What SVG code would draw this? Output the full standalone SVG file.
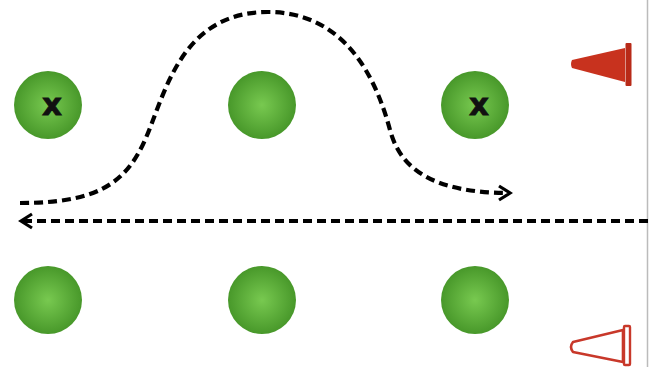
<svg xmlns="http://www.w3.org/2000/svg" width="650" height="367" viewBox="0 0 650 367">
<defs>
<radialGradient id="g" cx="50%" cy="50%" r="50%">
<stop offset="0" stop-color="#78c950"/>
<stop offset="1" stop-color="#48982a"/>
</radialGradient>
<marker id="ah" viewBox="0 0 16 18" refX="13" refY="9" markerWidth="16" markerHeight="18" markerUnits="userSpaceOnUse" orient="auto-start-reverse">
<path d="M2,2 L13,9 L2,16" fill="none" stroke="#000" stroke-width="3.2" stroke-linejoin="miter"/>
</marker>
<style>
.ball{fill:url(#g)}
.mark{font-family:"DejaVu Sans",sans-serif;font-weight:bold;font-size:31px;fill:#111;stroke:#111;stroke-width:0.8;text-anchor:middle}
.dash{fill:none;stroke:#000;stroke-width:4.2;stroke-dasharray:9 5}
</style>
</defs>
<rect width="650" height="367" fill="#fff"/>
<line x1="647.5" y1="0" x2="647.5" y2="367" stroke="#bbb" stroke-width="1.5"/>
<g id="ball-top-left"><circle class="ball" cx="48" cy="105" r="34"/><text class="mark" x="52" y="115">x</text></g>
<g id="ball-top-mid"><circle class="ball" cx="262" cy="105" r="34"/></g>
<g id="ball-top-right"><circle class="ball" cx="475" cy="105" r="34"/><text class="mark" x="479" y="115">x</text></g>
<g id="ball-bot-left"><circle class="ball" cx="48" cy="300" r="34"/></g>
<g id="ball-bot-mid"><circle class="ball" cx="262" cy="300" r="34"/></g>
<g id="ball-bot-right"><circle class="ball" cx="475" cy="300" r="34"/></g>
<g id="cone-top">
<path d="M572,60 Q570,64 572,68 L625,82 L625,48 Z" fill="#c8321e"/>
<rect x="625.5" y="43" width="6" height="43" rx="1" fill="#b82a18"/>
</g>
<g id="cone-bottom">
<path d="M573,342 Q569,347 573,352 L623,362 L623,330 Z" fill="#fff" stroke="#c8382a" stroke-width="2.6" stroke-linejoin="round"/>
<rect x="624" y="326" width="6" height="39" rx="1" fill="#fff" stroke="#c8382a" stroke-width="2.4"/>
</g>
<g id="connectors">
<path class="dash" d="M20,203 C95,203 125,185 145,140 C165,95 180,12 268,12 C330,12 370,55 390,130 C400,167 430,193 510,193" marker-end="url(#ah)"/>
<path class="dash" d="M648,221 L21,221" marker-end="url(#ah)"/>
</g>
</svg>
